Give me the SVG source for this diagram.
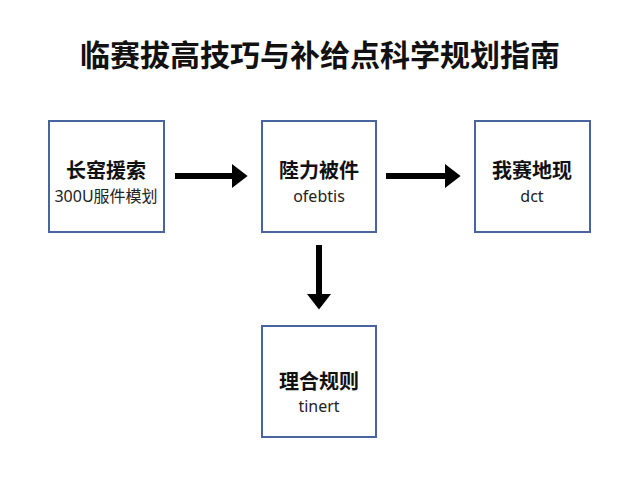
<svg xmlns="http://www.w3.org/2000/svg" width="640" height="480" viewBox="0 0 640 480">
<defs>
<marker id="ah" markerWidth="4" markerHeight="4" refX="2" refY="2" orient="auto" markerUnits="strokeWidth"><path d="M0,0 L2.6,2 L0,4 Z" fill="#000"/></marker>
<style>
.box{fill:#fff;stroke:#4a64a0;stroke-width:2}
.t{font-family:"Noto Sans CJK SC",sans-serif;font-weight:bold;font-size:20px;text-anchor:middle;fill:#111}
.s{font-family:"Noto Sans","Noto Sans CJK SC",sans-serif;font-size:16px;text-anchor:middle;fill:#222}
.c{stroke:#000;stroke-width:6;fill:none;marker-end:url(#ah)}
</style>
</defs>
<rect width="640" height="480" fill="#fff"/>
<text x="320" y="66" font-family="Noto Sans CJK SC,sans-serif" font-weight="bold" font-size="30" text-anchor="middle" fill="#111">临赛拔高技巧与补给点科学规划指南</text>
<g id="n1"><rect class="box" x="49" y="121" width="115" height="111"/><text class="t" x="106" y="178">长窑援索</text><text class="s" x="106" y="202">300U服件模划</text></g>
<g id="n2"><rect class="box" x="262" y="121" width="114" height="111"/><text class="t" x="319" y="178">陸力被件</text><text class="s" x="319" y="202">ofebtis</text></g>
<g id="n3"><rect class="box" x="475" y="121" width="115" height="111"/><text class="t" x="532" y="178">我赛地现</text><text class="s" x="532" y="202">dct</text></g>
<g id="n4"><rect class="box" x="262" y="326" width="114" height="111"/><text class="t" x="319" y="389">理合规则</text><text class="s" x="319" y="412">tinert</text></g>
<g id="connectors">
<line class="c" x1="175" y1="176" x2="244" y2="176"/>
<line class="c" x1="386" y1="176" x2="457" y2="176"/>
<line class="c" x1="319" y1="245" x2="319" y2="306"/>
</g>
</svg>
